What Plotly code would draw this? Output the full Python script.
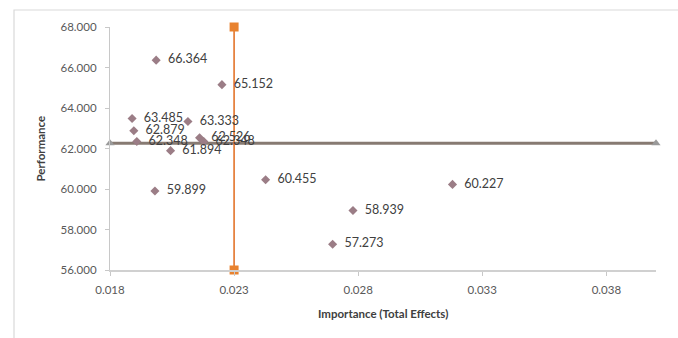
import plotly.graph_objects as go

# Importance (total effects) vs. performance for each attribute
importance = [0.01986, 0.02251, 0.01889, 0.02114, 0.01896, 0.01908, 0.02161,
              0.02178, 0.02044, 0.01981, 0.02427, 0.03180, 0.02779, 0.02697]
performance = [66.364, 65.152, 63.485, 63.333, 62.879, 62.348, 62.526,
               62.348, 61.894, 59.899, 60.455, 60.227, 58.939, 57.273]

# Reference lines (means) splitting the quadrants
mean_importance = 0.0230
mean_performance = 62.26
x_range = [0.018, 0.040]
y_range = [56.0, 68.0]

x_ticks = [0.018, 0.023, 0.028, 0.033, 0.038]
y_ticks = [56, 58, 60, 62, 64, 66, 68]

font_family = "Lato, 'Open Sans', sans-serif"
label_color = "#404040"
tick_color = "#595959"

fig = go.Figure()

# Horizontal mean-performance line with triangle ends
fig.add_trace(go.Scatter(
    x=x_range, y=[mean_performance, mean_performance],
    mode="lines+markers",
    line=dict(color="#877a72", width=3),
    marker=dict(symbol="triangle-up", size=8, color="#9a9a9a"),
    hoverinfo="skip", showlegend=False, cliponaxis=False,
))

# Vertical mean-importance line with square ends
fig.add_trace(go.Scatter(
    x=[mean_importance, mean_importance], y=y_range,
    mode="lines+markers",
    line=dict(color="#e3742a", width=1.6),
    marker=dict(symbol="square", size=9, color="#e8822f"),
    hoverinfo="skip", showlegend=False, cliponaxis=False,
))

# Attribute points with value labels (a small gap before each label)
fig.add_trace(go.Scatter(
    x=importance, y=performance,
    mode="markers+text",
    marker=dict(symbol="diamond", size=7, color="#9b7d86"),
    text=[f"  {v:.3f}" for v in performance],
    textposition="middle right",
    textfont=dict(family=font_family, size=12.5, color=label_color),
    showlegend=False, cliponaxis=False,
))

L, R, T, B = 110, 22, 27, 68
plot_w = 678 - L - R
plot_h = 338 - T - B

def px_to_paper_x(px):
    return (px - L) / plot_w

def px_to_paper_y(py):
    return (338 - B - py) / plot_h

fig.update_layout(
    width=678, height=338,
    margin=dict(l=L, r=R, t=T, b=B),
    paper_bgcolor="white", plot_bgcolor="white",
    font=dict(family=font_family, size=11, color=tick_color),
    xaxis=dict(
        range=x_range, tickmode="array", tickvals=x_ticks,
        ticktext=[f"{v:.3f}" for v in x_ticks],
        showgrid=False, zeroline=False,
        showline=True, linecolor="#d0d0d0", linewidth=2,
        ticks="outside", ticklen=4, tickcolor="#c8c8c8",
        tickfont=dict(family=font_family, size=11.5, color=tick_color),
        ticklabelstandoff=4,
    ),
    yaxis=dict(
        range=y_range, tickmode="array", tickvals=y_ticks,
        ticktext=[f"{v:.3f}" for v in y_ticks],
        showgrid=False, zeroline=False,
        showline=True, linecolor="#c8c8c8", linewidth=1.2,
        ticks="outside", ticklen=4, tickcolor="#c8c8c8",
        tickfont=dict(family=font_family, size=11.5, color=tick_color),
        ticklabelstandoff=6,
    ),
    annotations=[
        dict(text="<b>Importance (Total Effects)</b>", xref="paper", yref="paper",
             x=0.5, y=px_to_paper_y(313), xanchor="center", yanchor="middle",
             showarrow=False,
             font=dict(family=font_family, size=11.5, color=label_color)),
        dict(text="<b>Performance</b>", xref="paper", yref="paper",
             x=px_to_paper_x(40), y=0.5, xanchor="center", yanchor="middle",
             textangle=-90, showarrow=False,
             font=dict(family=font_family, size=11.5, color=label_color)),
    ],
    shapes=[
        # chart area frame
        dict(type="rect", xref="paper", yref="paper",
             x0=px_to_paper_x(14), x1=px_to_paper_x(700),
             y0=px_to_paper_y(345), y1=px_to_paper_y(10),
             line=dict(color="#d9d9d9", width=1.2), layer="below"),
    ],
)

fig.write_html("out.html")
